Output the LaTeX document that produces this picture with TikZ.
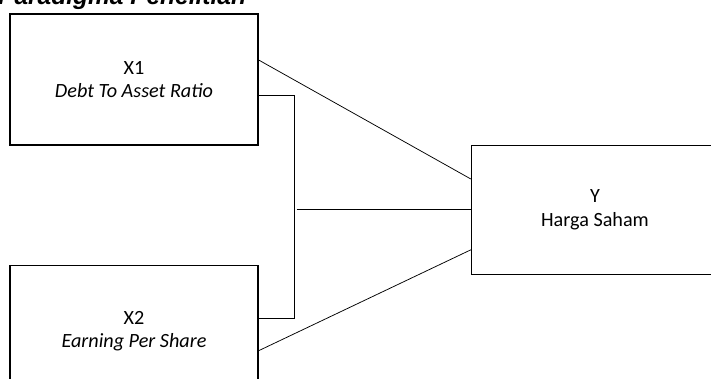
\documentclass[tikz,border=0pt]{standalone}
\usepackage{fontspec}
\setmainfont{Carlito}
\newfontfamily\titlefont{Liberation Sans}
\usetikzlibrary{positioning,calc}

\tikzset{
    varbox/.style={draw, line width=1.3pt, minimum width=248pt, minimum height=131pt,
        align=center, font=\fontsize{20.2}{23.5}\selectfont},
    link/.style={line width=0.75pt}
}

\begin{document}
\begin{tikzpicture}[x=1pt, y=-1pt]
    \useasboundingbox (0,0) rectangle (711,378);

    % Title (cut at the top edge)
    \node[anchor=base west, inner sep=0pt, font=\titlefont\fontsize{24.5}{28}\selectfont\bfseries\itshape] (title) at (-2,4.5) {Paradigma Penelitian};

    % Variable boxes
    \node[varbox] (x1) at (134,79.5) {X1\\\textit{Debt To Asset Ratio}};
    \node[varbox] (x2) at (134,331) {X2\\\textit{Earning Per Share}};
    \node[varbox, minimum width=247pt, minimum height=129pt] (y) at (595,209.8) {Y\\Harga Saham};

    % Joint bracket of X1 and X2
    \coordinate (jtop) at ([xshift=36, yshift=-15.5]x1.east);
    \coordinate (jbot) at ([xshift=36, yshift=13]x2.east);
    \coordinate (jmid) at (jtop |- y.west);
    \draw[link] ([yshift=-15.5]x1.east) -- (jtop) -- (jbot) -- ([yshift=13]x2.east);
    \draw[link] ([xshift=2]jmid) -- (y.west);

    % Partial links
    \draw[link] ([yshift=19.5]x1.east) -- ([yshift=30.8]y.west);
    \draw[link] ([yshift=-19.7]x2.east) -- ([yshift=-40]y.west);
\end{tikzpicture}
\end{document}
